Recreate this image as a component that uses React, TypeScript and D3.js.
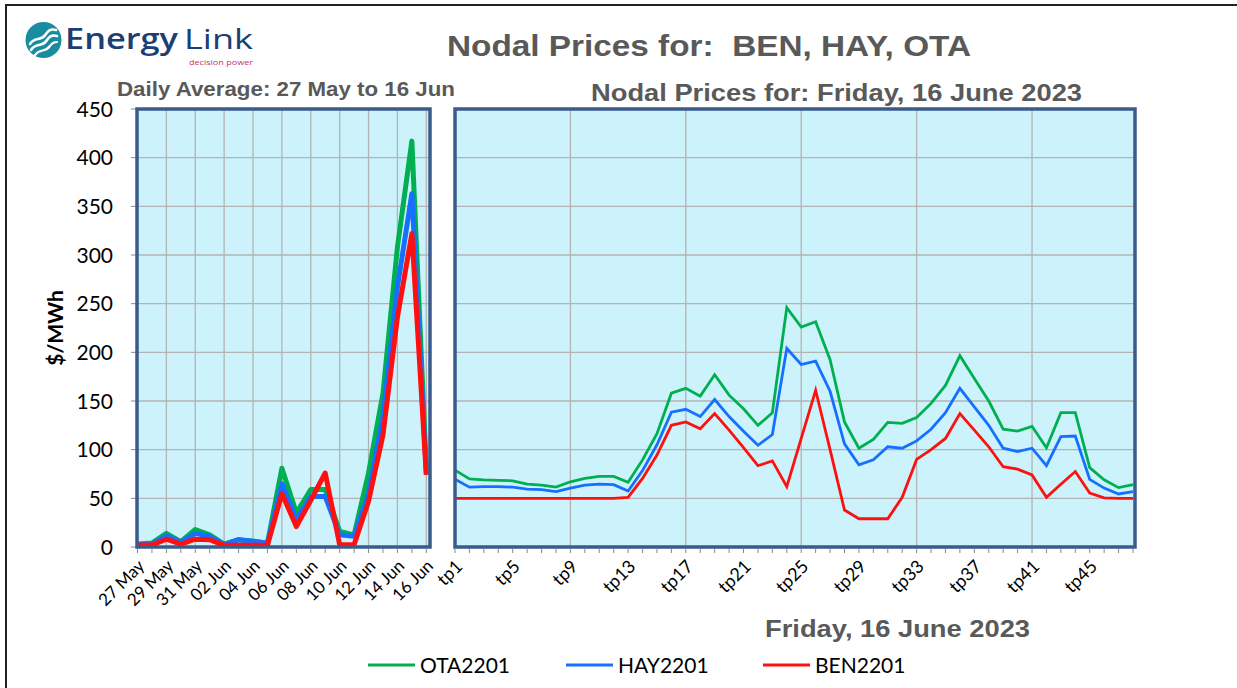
import React from "react";
import * as d3 from "d3";

const dates = ["27 May","28 May","29 May","30 May","31 May","01 Jun","02 Jun","03 Jun","04 Jun","05 Jun","06 Jun","07 Jun","08 Jun","09 Jun","10 Jun","11 Jun","12 Jun","13 Jun","14 Jun","15 Jun","16 Jun"];
const dailyOTA = [3,4,14,5.5,18,12.5,3,7.5,6,4,81,35,59,59,16,12.5,76,158,308,417,80];
const dailyHAY = [2.4,3,11.5,5,14,11,2.4,7.5,6,4,65,28,52,52,12.5,11,55,134,267,363,76];
const dailyBEN = [2,2,8,3,8,7.5,1.7,1.7,1.7,1.7,55,21,48,76,2.4,2.4,47,115,236,322,74];

const periods = Array.from({ length: 48 }, (_, i) => `tp${i + 1}`);
const tpOTA = [79,70,69,68.5,68,64.5,63.5,61.5,67,70.5,72.5,72.5,66.5,89.5,116.5,158,163,155,177,156,142,125,138,246,226,231.5,192.5,128.5,101.5,110.5,128,127,133,147.5,166,196.5,173,150,121,119,124,102,138,138,81.5,69,61,64];
const tpHAY = [69.5,61.5,62,62,61.5,59.5,59,57,60.5,63.5,64.5,64,57.5,78.5,105,138.5,141.5,134,151.5,134,119,104.5,115.5,204,187.5,191,160,106,84.5,89.5,103,101.5,109,121,138,163,144,125,101.5,98,101.5,83.5,113.5,114,69.5,60.5,54.5,57];
const tpBEN = [50,50,50,50,50,50,50,50,50,50,50,50,51,70.5,94.5,125,128.5,121.5,137,120,102,83.5,88.5,62,111.5,161,100,38,29,29,29,51,90,100,111.5,137,120,103,82.5,80,74,51,64.5,77.5,55.5,50.5,50,50];

const yTicks = [0,50,100,150,200,250,300,350,400,450];
const seriesNames = ["OTA2201","HAY2201","BEN2201"];
const seriesColors = ["#00b050","#1670ff","#ff1010"];

const W = 1237, H = 688;
const TOP = 109, BOTTOM = 547;
const L = { x0: 137, x1: 430 };
const R = { x0: 455, x1: 1135 };
const BORDER = "#3b5b8c";
const BG = "#ccf3fb";
const GRID = "#b3b3b3";
const GRAYTXT = "#595959";
const BODY = "Lato, 'Open Sans', sans-serif";
const BOLD = "'Liberation Sans', Arial, sans-serif";

export default function App() {
  const y = d3.scaleLinear().domain([0, 450]).range([BOTTOM, TOP]);
  const xL = d3.scaleLinear().domain([0, dates.length - 1]).range([137.5, 426.3]);
  const xR = d3.scaleLinear().domain([0, periods.length - 1]).range([455, 1133]);

  const lineL = d3.line<number>().x((_, i) => xL(i)).y((v) => y(v));
  const lineR = d3.line<number>().x((_, i) => xR(i)).y((v) => y(v));

  const dailySeries = [dailyOTA, dailyHAY, dailyBEN];
  const tpSeries = [tpOTA, tpHAY, tpBEN];

  const legendX = [368, 566, 763];

  return (
    <svg width={W} height={H} style={{ position: "absolute", left: 0, top: 0, background: "#fff" }}>
      {/* frame */}
      <rect x={6} y={5} width={W + 20} height={H + 20} fill="#fff" stroke="#222" strokeWidth={2} />

      {/* logo */}
      <g>
        <circle cx={43.5} cy={40} r={18} fill="#1a8c9f" />
        <path d="M30,44 C35,36 41,42 46,34 C49,29 53,29 56,30" fill="none" stroke="#fff" strokeWidth={2.6} strokeLinecap="round" />
        <path d="M31,50 C36,42 42,48 47,40 C50,35 54,35 57,36" fill="none" stroke="#fff" strokeWidth={2.6} strokeLinecap="round" />
        <path d="M35,55 C40,48 45,53 50,46 C52,43 55,42 57,42" fill="none" stroke="#fff" strokeWidth={2.2} strokeLinecap="round" />
        <text x={65} y={49} fontFamily="'Open Sans', sans-serif" fontWeight={600} fontSize={28} fill="#1b3f72" textLength={113} lengthAdjust="spacingAndGlyphs">Energy</text>
        <text x={184} y={49} fontFamily="'Open Sans', sans-serif" fontWeight={400} fontSize={28} fill="#1b3f72" textLength={69} lengthAdjust="spacingAndGlyphs">Link</text>
        <text x={189} y={64.5} fontFamily="'Open Sans', sans-serif" fontSize={8} fill="#c2336b" textLength={64} lengthAdjust="spacingAndGlyphs">decision power</text>
      </g>

      {/* titles */}
      <text x={447} y={56} fontFamily={BOLD} fontWeight="bold" fontSize={29} fill={GRAYTXT} textLength={524} lengthAdjust="spacingAndGlyphs" xmlSpace="preserve">{"Nodal Prices for:  BEN, HAY, OTA"}</text>
      <text x={117} y={96} fontFamily={BOLD} fontWeight="bold" fontSize={20} fill={GRAYTXT} textLength={338} lengthAdjust="spacingAndGlyphs">Daily Average: 27 May to 16 Jun</text>
      <text x={591} y={101} fontFamily={BOLD} fontWeight="bold" fontSize={23} fill={GRAYTXT} textLength={491} lengthAdjust="spacingAndGlyphs">Nodal Prices for: Friday, 16 June 2023</text>
      <text x={765} y={637} fontFamily={BOLD} fontWeight="bold" fontSize={24} fill={GRAYTXT} textLength={265} lengthAdjust="spacingAndGlyphs">Friday, 16 June 2023</text>

      {/* y axis */}
      <text transform={`translate(63,${(TOP + BOTTOM) / 2}) rotate(-90)`} textAnchor="middle" fontFamily={BODY} fontWeight="bold" fontSize={21} fill="#000">$/MWh</text>
      {yTicks.map((t) => (
        <g key={t}>
          <line x1={131} x2={137} y1={y(t)} y2={y(t)} stroke="#888" strokeWidth={1} />
          <text x={113} y={y(t)} dy="0.36em" textAnchor="end" fontFamily={BODY} fontSize={21} fill="#000">{t}</text>
        </g>
      ))}

      {/* left plot */}
      <rect x={L.x0} y={TOP} width={L.x1 - L.x0} height={BOTTOM - TOP} fill={BG} />
      {yTicks.filter((t) => t > 0 && t < 450).map((t) => (
        <line key={t} x1={L.x0} x2={L.x1} y1={y(t)} y2={y(t)} stroke={GRID} strokeWidth={1.3} />
      ))}
      {dates.map((d, i) => (i > 0 && i % 2 === 0 ? (
        <line key={d} x1={xL(i)} x2={xL(i)} y1={TOP} y2={BOTTOM} stroke={GRID} strokeWidth={1.3} />
      ) : null))}
      {dailySeries.map((s, k) => (
        <path key={k} d={lineL(s) || ""} fill="none" stroke={seriesColors[k]} strokeWidth={5} strokeLinejoin="round" />
      ))}
      <rect x={L.x0} y={TOP} width={L.x1 - L.x0} height={BOTTOM - TOP} fill="none" stroke={BORDER} strokeWidth={3.5} />
      {dates.map((d, i) => (
        <line key={"t" + d} x1={xL(i)} x2={xL(i)} y1={BOTTOM + 2} y2={BOTTOM + 6} stroke="#888" strokeWidth={1} />
      ))}
      {dates.map((d, i) => (i % 2 === 0 ? (
        <text key={"l" + d} transform={`translate(${xL(i) - 1},${BOTTOM + 11}) rotate(-45)`} dy="0.75em" textAnchor="end" fontFamily={BODY} fontSize={17} fill="#000">{d}</text>
      ) : null))}

      {/* right plot */}
      <rect x={R.x0} y={TOP} width={R.x1 - R.x0} height={BOTTOM - TOP} fill={BG} />
      {yTicks.filter((t) => t > 0 && t < 450).map((t) => (
        <line key={t} x1={R.x0} x2={R.x1} y1={y(t)} y2={y(t)} stroke={GRID} strokeWidth={1.3} />
      ))}
      {periods.map((p, i) => (i > 0 && i % 8 === 0 ? (
        <line key={p} x1={xR(i)} x2={xR(i)} y1={TOP} y2={BOTTOM} stroke={GRID} strokeWidth={1.3} />
      ) : null))}
      {tpSeries.map((s, k) => (
        <path key={k} d={lineR(s) || ""} fill="none" stroke={seriesColors[k]} strokeWidth={2.8} strokeLinejoin="miter" />
      ))}
      <rect x={R.x0} y={TOP} width={R.x1 - R.x0} height={BOTTOM - TOP} fill="none" stroke={BORDER} strokeWidth={3.5} />
      {periods.map((p, i) => (
        <line key={"t" + p} x1={xR(i)} x2={xR(i)} y1={BOTTOM + 2} y2={BOTTOM + 6} stroke="#888" strokeWidth={1} />
      ))}
      {periods.map((p, i) => (i % 4 === 0 ? (
        <text key={"l" + p} transform={`translate(${xR(i) - 1},${BOTTOM + 11}) rotate(-45)`} dy="0.75em" textAnchor="end" fontFamily={BODY} fontSize={18} fill="#000">{p}</text>
      ) : null))}

      {/* legend */}
      {seriesNames.map((n, k) => (
        <g key={n}>
          <line x1={legendX[k]} x2={legendX[k] + 47} y1={665} y2={665} stroke={seriesColors[k]} strokeWidth={3} />
          <text x={legendX[k] + 52} y={665} dy="0.36em" fontFamily={BODY} fontSize={21} fill="#000">{n}</text>
        </g>
      ))}
    </svg>
  );
}
